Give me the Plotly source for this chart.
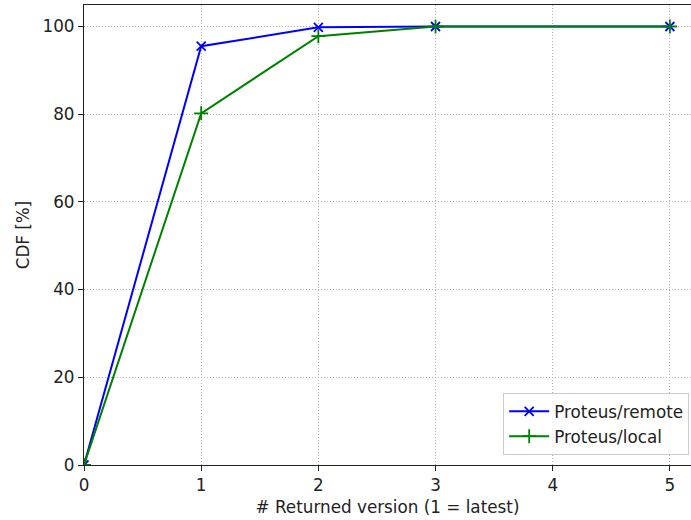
import plotly.graph_objects as go

# Returned version index and CDF values (%)
versions = [0, 1, 2, 3, 5]
remote_cdf = [0.0, 95.5, 99.8, 100.0, 100.0]
local_cdf = [0.0, 80.2, 97.8, 100.0, 100.0]

x_ticks = [0, 1, 2, 3, 4, 5]
y_ticks = [0, 20, 40, 60, 80, 100]

FONT = "DejaVu Sans, Arial, sans-serif"
FS = 16.8

fig = go.Figure()

# Proteus/remote (blue, x markers)
fig.add_trace(
    go.Scatter(
        x=versions,
        y=remote_cdf,
        mode="lines+markers",
        name="Proteus/remote",
        line=dict(color="#0000ff", width=2),
        marker=dict(symbol="x-thin-open", size=9, line=dict(color="#0000ff", width=1.8)),
    )
)

# Proteus/local (green, + markers)
fig.add_trace(
    go.Scatter(
        x=versions,
        y=local_cdf,
        mode="lines+markers",
        name="Proteus/local",
        line=dict(color="#008000", width=2),
        marker=dict(symbol="cross-thin-open", size=10, line=dict(color="#008000", width=1.8)),
    )
)

axis_common = dict(
    showline=True,
    linecolor="#222222",
    linewidth=1.2,
    mirror=True,
    ticks="outside",
    ticklen=5,
    tickwidth=1,
    tickcolor="#222222",
    showgrid=True,
    gridcolor="#b0b0b0",
    griddash="1px,2px",
    gridwidth=0.8,
    zeroline=False,
    automargin=False,
    tickfont=dict(family=FONT, size=FS, color="#222222"),
)

fig.update_layout(
    width=691,
    height=520,
    margin=dict(l=84, r=0, t=5, b=55),
    plot_bgcolor="white",
    paper_bgcolor="white",
    font=dict(family=FONT, size=FS, color="#222222"),
    xaxis=dict(
        title=dict(text="# Returned version (1 = latest)", standoff=6,
                   font=dict(family=FONT, size=FS)),
        range=[0, 5.18],
        tickvals=x_ticks,
        **axis_common,
    ),
    yaxis=dict(
        title=dict(text="CDF [%]", standoff=8, font=dict(family=FONT, size=FS)),
        range=[0, 104.9],
        tickvals=y_ticks,
        **axis_common,
    ),
    legend=dict(
        x=0.997,
        y=0.022,
        xanchor="right",
        yanchor="bottom",
        bgcolor="rgba(255,255,255,0.8)",
        bordercolor="#cccccc",
        borderwidth=1,
        itemwidth=40,
        font=dict(family=FONT, size=FS, color="#222222"),
    ),
    showlegend=True,
)

# drop the browser's default page margin so the figure sits at the window origin
fig.write_html(
    "out.html",
    config={"displayModeBar": False},
    post_script="document.body.style.margin='0';",
)
